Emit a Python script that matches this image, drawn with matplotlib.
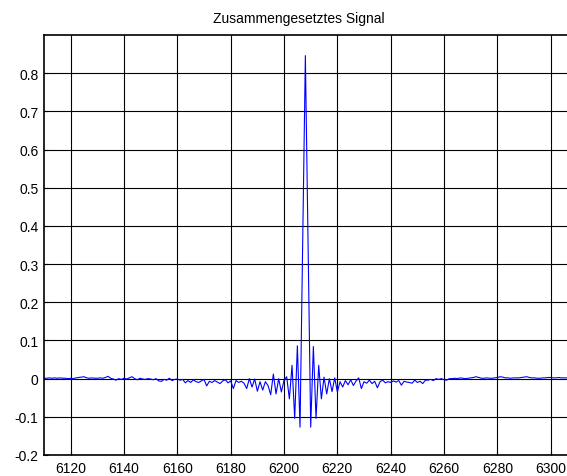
import numpy as np
import matplotlib
matplotlib.use("Agg")
import matplotlib.pyplot as plt

x_start = 6110
signal = [
    0.001, 0.001, 0.002, 0.001, 0.002, 0.001, 0.002, 0.001, 0.001, 0.000,
    0.001, 0.000, 0.002, 0.003, 0.004, 0.005, 0.002, 0.001, 0.002, 0.001,
    0.001, 0.002, 0.001, 0.003, 0.006, 0.001, -0.001, -0.004, 0.000, -0.002,
    0.001, -0.001, 0.002, 0.005, 0.000, -0.003, 0.001, -0.001, -0.002, 0.000,
    -0.001, -0.003, 0.000, -0.006, -0.007, -0.002, -0.004, 0.001, -0.005, -0.002,
    -0.001, -0.004, -0.002, -0.011, -0.005, -0.010, -0.003, -0.008, -0.010, -0.006,
    -0.002, -0.019, -0.007, -0.010, -0.005, -0.009, -0.013, -0.006, -0.003, -0.011,
    -0.006, -0.026, -0.005, -0.010, -0.007, -0.012, -0.026, 0.000, -0.022, -0.001,
    -0.033, -0.008, -0.030, -0.008, -0.018, -0.042, 0.012, -0.040, 0.000, -0.035,
    -0.004, 0.005, -0.053, 0.035, -0.104, 0.086, -0.127, 0.360, 0.846, 0.360,
    -0.127, 0.084, -0.104, 0.035, -0.053, 0.004, -0.040, 0.000, -0.034, 0.002,
    -0.035, -0.008, -0.022, -0.005, -0.016, -0.003, -0.018, -0.006, 0.002, -0.026,
    -0.008, -0.012, -0.004, -0.013, -0.007, -0.024, -0.008, -0.004, -0.011, -0.008,
    -0.010, -0.006, -0.009, -0.005, -0.017, -0.007, -0.009, -0.010, -0.012, -0.004,
    -0.010, -0.007, -0.013, -0.004, -0.004, -0.002, -0.005, 0.000, -0.002, 0.000,
    -0.003, -0.004, 0.000, 0.000, 0.001, 0.000, 0.002, 0.001, 0.000, 0.001,
    0.002, 0.003, 0.005, 0.003, 0.001, 0.001, 0.002, 0.001, 0.001, 0.002,
    0.003, 0.005, 0.004, 0.002, 0.002, 0.001, 0.002, 0.002, 0.002, 0.003,
    0.004, 0.005, 0.003, 0.002, 0.002, 0.001, 0.001, 0.002, 0.002, 0.003,
    0.003, 0.002, 0.002, 0.003, 0.002, 0.002, 0.002,
]
x_vals = np.arange(x_start, x_start + len(signal))

x_ticks = [6120, 6140, 6160, 6180, 6200, 6220, 6240, 6260, 6280, 6300]
y_ticks = [-0.2, -0.1, 0, 0.1, 0.2, 0.3, 0.4, 0.5, 0.6, 0.7, 0.8]
y_tick_labels = ["-0.2", "-0.1", "0", "0.1", "0.2", "0.3", "0.4", "0.5", "0.6", "0.7", "0.8"]
title = "Zusammengesetztes Signal"

plt.rcParams['font.family'] = ['Liberation Sans', 'DejaVu Sans']

fig = plt.figure(figsize=(5.67, 4.77), dpi=100)
ax = fig.add_axes([44/567, 21/477, 1 - 44/567, 420/477])

ax.plot(x_vals, signal, color='#0000ff', linewidth=0.8)

ax.set_xlim(6110, 6306.1)
ax.set_ylim(-0.2, 0.9)
ax.set_xticks(x_ticks)
ax.set_xticklabels([str(t) for t in x_ticks])
ax.set_yticks(y_ticks)
ax.set_yticklabels(y_tick_labels)
ax.grid(True, color='black', linewidth=0.8, linestyle='-')
ax.set_axisbelow(True)
ax.tick_params(direction='in', length=3, labelsize=10, pad=4, colors='black')
for s in ['left', 'bottom', 'top']:
    ax.spines[s].set_color('black')
    ax.spines[s].set_linewidth(1.2)
ax.spines['right'].set_visible(False)
ax.set_title(title, fontsize=10, pad=9, x=0.487)

fig.savefig("out.png", dpi=100)
